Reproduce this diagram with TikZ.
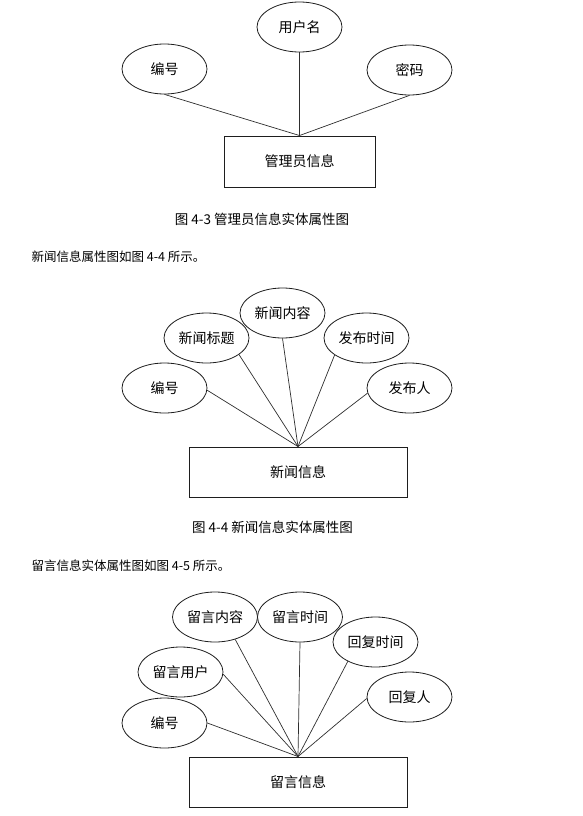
\documentclass[tikz,border=0pt]{standalone}
\usepackage{fontspec}
\setmainfont{Noto Sans CJK SC}
\usepackage{xcolor}
\usetikzlibrary{shapes.geometric}
\definecolor{ink}{HTML}{1E1E1E}
\definecolor{edgeink}{HTML}{2E2E2E}

\begin{document}
\begin{tikzpicture}[x=1pt, y=-1pt, font=\fontsize{14pt}{16pt}\selectfont]
  % --- the constants, in pixels of the page (y grows downwards) ------------
  \def\aw{85pt}   % attribute ellipse width
  \def\ah{50pt}   % attribute ellipse height
  \def\ew{218pt}  % entity box width (news, message)
  \def\eh{50pt}   % entity box height

  \tikzset{
    attr/.style={draw=ink, ellipse, line width=0.8pt, inner sep=0pt,
                 minimum width=\aw, minimum height=\ah},
    entity/.style={draw=ink, rectangle, line width=0.95pt, inner sep=0pt,
                   minimum width=\ew, minimum height=\eh},
    link/.style={draw=edgeink, line width=0.7pt},
    caption/.style={font=\fontsize{13.5pt}{16pt}\selectfont, text=black},
    body/.style={font=\fontsize{12.5pt}{14pt}\selectfont, text=black, anchor=west}}

  \useasboundingbox (0,0) rectangle (583,816);

  % ---- 1. admin entity ----------------------------------------------------
  \node[entity, minimum width=151pt, minimum height=51pt] (admin) at (299.5,161.5) {管理员信息};
  \node[attr] (adminid)   at (164.5,69) {编号};
  \node[attr] (adminname) at (299.5,27) {用户名};
  \node[attr] (adminpwd)  at (409.5,70) {密码};
  \foreach \a in {adminid,adminname,adminpwd}{
    \draw[link] (\a.south) -- (admin.north);}
  \node[caption] (admincap) at (262,219) {图 4-3 管理员信息实体属性图};

  \node[body] (newstext) at (28,257) {新闻信息属性图如图 4-4 所示。};

  % ---- 2. news entity -----------------------------------------------------
  \node[entity] (news) at (298,472) {新闻信息};
  \node[attr] (newsid)     at (164.5,388) {编号};
  \node[attr] (newstitle)  at (206.5,338) {新闻标题};
  \node[attr] (newsbody)   at (282.5,313) {新闻内容};
  \node[attr] (newstime)   at (366.5,338) {发布时间};
  \node[attr] (newsauthor) at (409.5,388) {发布人};
  % each leader leaves its ellipse at a fixed angle
  \foreach \a/\t in {newsid/-3, newstitle/-27, newsbody/-90,
                     newstime/208, newsauthor/187}{
    \draw[link] (\a.\t) -- (news.north);}
  \node[caption] (newscap) at (272.5,527) {图 4-4 新闻信息实体属性图};

  \node[body] (msgtext) at (28,566) {留言信息实体属性图如图 4-5 所示。};

  % ---- 3. message entity --------------------------------------------------
  \node[entity] (msg) at (298,782) {留言信息};
  \node[attr] (msgid)     at (164.5,723) {编号};
  \node[attr] (msguser)   at (180.5,672) {留言用户};
  \node[attr] (msgbody)   at (215,617)   {留言内容};
  \node[attr] (msgtime)   at (300,617)   {留言时间};
  \node[attr] (replytime) at (375.5,642) {回复时间};
  \node[attr] (replyer)   at (409.5,697) {回复人};
  \foreach \a/\t in {msgid/0, msguser/-3, msgbody/-48, msgtime/-90,
                     replytime/215, replyer/182}{
    \draw[link] (\a.\t) -- (msg.north);}
\end{tikzpicture}
\end{document}
